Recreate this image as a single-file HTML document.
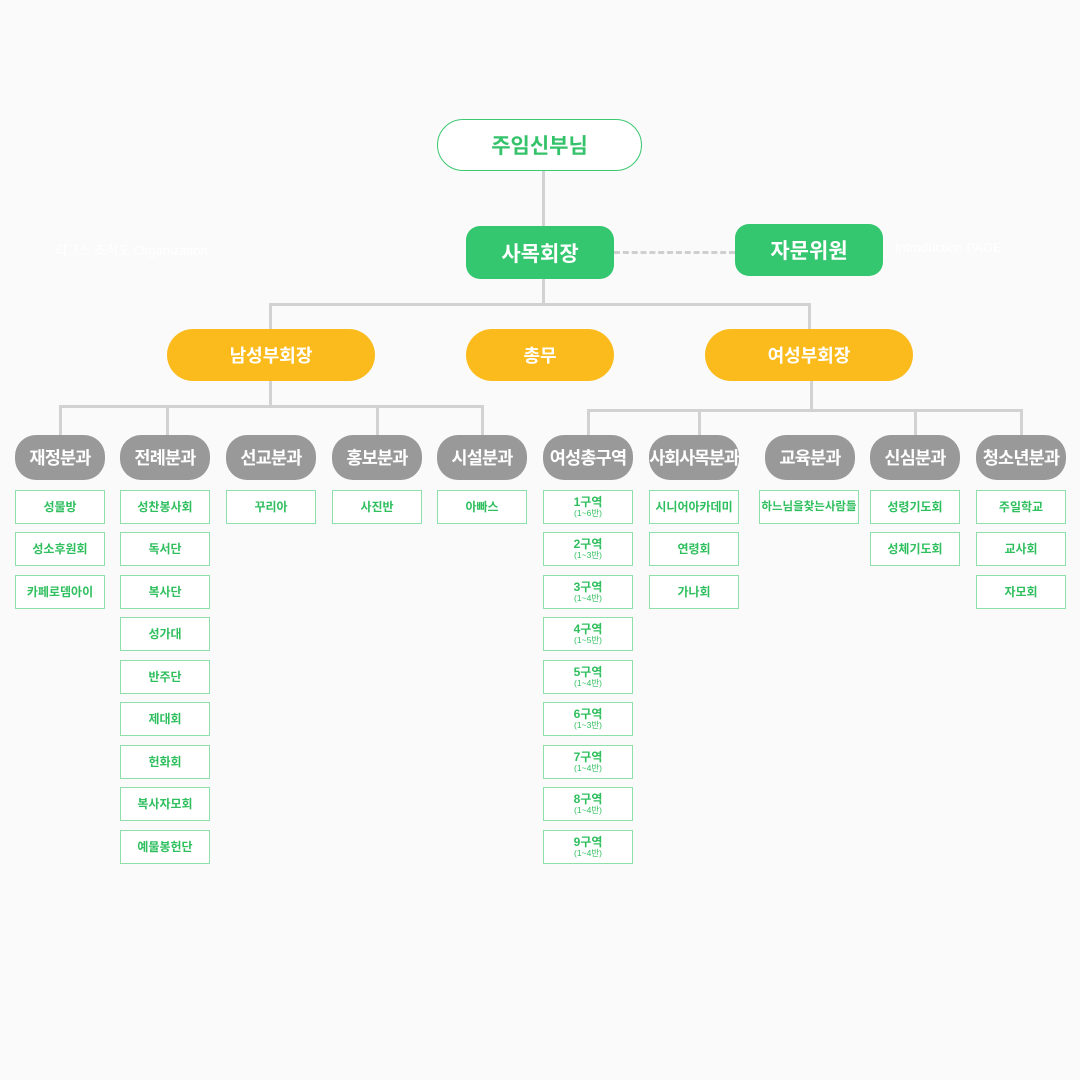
<!DOCTYPE html>
<html><head><meta charset="utf-8"><style>
body{margin:0;background:#fafafa;}
#c{position:relative;width:1080px;height:1080px;overflow:hidden;font-family:"Liberation Sans","Noto Sans CJK KR",sans-serif;}
.l{position:absolute;background:#d2d2d2;}
.b{position:absolute;display:flex;align-items:center;justify-content:center;font-weight:bold;box-sizing:border-box;white-space:nowrap;}
.g{background:#34c76f;color:#fff;font-size:21px;border-radius:14px;}
.y{background:#fbbb1c;color:#fff;font-size:18px;border-radius:26px;}
.p{background:#999;color:#fff;font-size:17.5px;border-radius:21px;width:90px;height:45px;top:435px;letter-spacing:-0.8px;}
.s{border:1px solid #8ee0aa;background:#fff;color:#2fbf5e;font-size:12px;width:90px;height:34px;flex-direction:column;line-height:12px;}
.s small{font-size:8.5px;font-weight:normal;line-height:10px;}
</style></head><body><div id="c">
<div class="l" style="left:542px;top:171px;width:3px;height:56px"></div>
<div class="l" style="left:542px;top:279px;width:3px;height:27px"></div>
<div class="l" style="left:269px;top:303px;width:542px;height:3px"></div>
<div class="l" style="left:269px;top:303px;width:3px;height:27px"></div>
<div class="l" style="left:808px;top:303px;width:3px;height:27px"></div>
<div style="position:absolute;left:614px;top:251px;width:121px;border-top:3px dashed #cfcfcf"></div>
<div class="l" style="left:269px;top:381px;width:3px;height:27px"></div>
<div class="l" style="left:59px;top:405px;width:424px;height:3px"></div>
<div class="l" style="left:59px;top:405px;width:3px;height:31px"></div>
<div class="l" style="left:166px;top:405px;width:3px;height:31px"></div>
<div class="l" style="left:376px;top:405px;width:3px;height:31px"></div>
<div class="l" style="left:481px;top:405px;width:3px;height:31px"></div>
<div class="l" style="left:810px;top:381px;width:3px;height:31px"></div>
<div class="l" style="left:587px;top:409px;width:436px;height:3px"></div>
<div class="l" style="left:587px;top:409px;width:3px;height:27px"></div>
<div class="l" style="left:698px;top:409px;width:3px;height:27px"></div>
<div class="l" style="left:914px;top:409px;width:3px;height:27px"></div>
<div class="l" style="left:1020px;top:409px;width:3px;height:27px"></div>
<div style="position:absolute;left:55px;top:240px;color:#fff;font-size:13px">리그스 조직도 Organization</div>
<div style="position:absolute;left:895px;top:240px;color:#fff;font-size:13px">Introduction PAGE</div>
<div class="b" style="left:437px;top:119px;width:205px;height:52px;border:1px solid #3cc870;border-radius:26px;background:#fff;color:#34c26a;font-size:21px">주임신부님</div>
<div class="b g" style="left:466px;top:226px;width:148px;height:53px">사목회장</div>
<div class="b g" style="left:735px;top:224px;width:148px;height:52px">자문위원</div>
<div class="b y" style="left:167px;top:329px;width:208px;height:52px">남성부회장</div>
<div class="b y" style="left:466px;top:329px;width:148px;height:52px">총무</div>
<div class="b y" style="left:705px;top:329px;width:208px;height:52px">여성부회장</div>
<div class="b p" style="left:15px">재정분과</div>
<div class="b p" style="left:120px">전례분과</div>
<div class="b p" style="left:226px">선교분과</div>
<div class="b p" style="left:332px">홍보분과</div>
<div class="b p" style="left:437px">시설분과</div>
<div class="b p" style="left:543px">여성총구역</div>
<div class="b p" style="left:649px;letter-spacing:-1.2px">사회사목분과</div>
<div class="b p" style="left:765px">교육분과</div>
<div class="b p" style="left:870px">신심분과</div>
<div class="b p" style="left:976px">청소년분과</div>

<div class="b s" style="left:15px;top:490px">성물방</div>
<div class="b s" style="left:15px;top:532px">성소후원회</div>
<div class="b s" style="left:15px;top:575px">카페로뎀아이</div>
<div class="b s" style="left:120px;top:490px">성찬봉사회</div>
<div class="b s" style="left:120px;top:532px">독서단</div>
<div class="b s" style="left:120px;top:575px">복사단</div>
<div class="b s" style="left:120px;top:617px">성가대</div>
<div class="b s" style="left:120px;top:660px">반주단</div>
<div class="b s" style="left:120px;top:702px">제대회</div>
<div class="b s" style="left:120px;top:745px">헌화회</div>
<div class="b s" style="left:120px;top:787px">복사자모회</div>
<div class="b s" style="left:120px;top:830px">예물봉헌단</div>
<div class="b s" style="left:226px;top:490px">꾸리아</div>
<div class="b s" style="left:332px;top:490px">사진반</div>
<div class="b s" style="left:437px;top:490px">아빠스</div>
<div class="b s" style="left:543px;top:490px">1구역<small>(1~6반)</small></div>
<div class="b s" style="left:543px;top:532px">2구역<small>(1~3반)</small></div>
<div class="b s" style="left:543px;top:575px">3구역<small>(1~4반)</small></div>
<div class="b s" style="left:543px;top:617px">4구역<small>(1~5반)</small></div>
<div class="b s" style="left:543px;top:660px">5구역<small>(1~4반)</small></div>
<div class="b s" style="left:543px;top:702px">6구역<small>(1~3반)</small></div>
<div class="b s" style="left:543px;top:745px">7구역<small>(1~4반)</small></div>
<div class="b s" style="left:543px;top:787px">8구역<small>(1~4반)</small></div>
<div class="b s" style="left:543px;top:830px">9구역<small>(1~4반)</small></div>
<div class="b s" style="left:649px;top:490px">시니어아카데미</div>
<div class="b s" style="left:649px;top:532px">연령회</div>
<div class="b s" style="left:649px;top:575px">가나회</div>
<div class="b s" style="left:759px;top:490px;width:100px;font-size:11.5px">하느님을찾는사람들</div>
<div class="b s" style="left:870px;top:490px">성령기도회</div>
<div class="b s" style="left:870px;top:532px">성체기도회</div>
<div class="b s" style="left:976px;top:490px">주일학교</div>
<div class="b s" style="left:976px;top:532px">교사회</div>
<div class="b s" style="left:976px;top:575px">자모회</div>
</div></body></html>
